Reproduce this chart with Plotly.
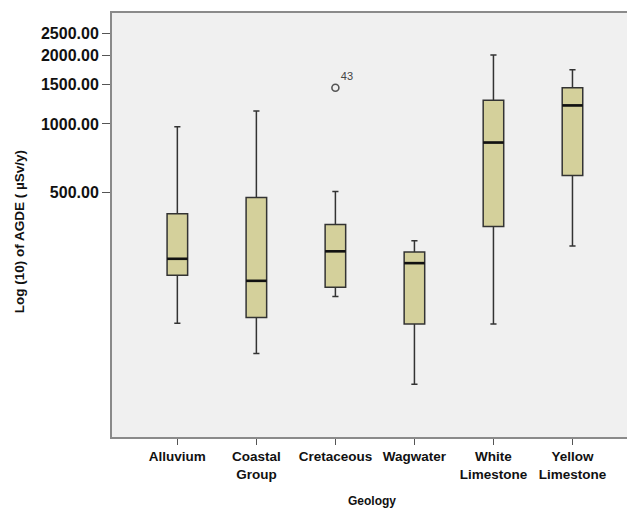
import plotly.graph_objects as go

categories = ["Alluvium", "Coastal<br>Group", "Cretaceous", "Wagwater", "White<br>Limestone", "Yellow<br>Limestone"]
lower_whisker = [132, 97, 173, 71, 131, 289]
q1 = [215, 140, 190, 131, 353, 592]
median = [254, 203, 274, 243, 828, 1208]
q3 = [401, 474, 360, 272, 1272, 1445]
upper_whisker = [973, 1141, 503, 305, 2014, 1734]
outlier_cat = [2]
outlier_val = [1445]
outlier_label = ["43"]
ytick_vals = [500, 1000, 1500, 2000, 2500]

BOX_W = 0.26
FONT = "Liberation Sans"
xs = list(range(len(categories)))

fig = go.Figure()
fig.add_trace(go.Box(
    x=xs, q1=q1, median=median, q3=q3,
    lowerfence=lower_whisker, upperfence=upper_whisker,
    width=BOX_W, whiskerwidth=0.3,
    fillcolor="#d4d09b", line=dict(color="#333333", width=1.5),
    boxpoints=False, showlegend=False, hoverinfo="skip",
))

mx, my = [], []
for i, m in zip(xs, median):
    mx += [i - BOX_W / 2, i + BOX_W / 2, None]
    my += [m, m, None]
fig.add_trace(go.Scatter(x=mx, y=my, mode="lines",
                         line=dict(color="#111111", width=2.6),
                         showlegend=False, hoverinfo="skip"))

fig.add_trace(go.Scatter(
    x=outlier_cat, y=outlier_val, mode="markers+text",
    marker=dict(symbol="circle-open", size=7, color="#555555", line=dict(width=1.6)),
    text=outlier_label, textposition="top right",
    textfont=dict(family=FONT, size=11, color="#444444"),
    showlegend=False, hoverinfo="skip",
))

fig.update_layout(
    width=627, height=509,
    margin=dict(l=112, r=0, t=13, b=72, autoexpand=False),
    paper_bgcolor="white", plot_bgcolor="#f0f0f0",
    font=dict(family=FONT, color="black"),
    xaxis=dict(
        range=[-0.827, 5.69], tickvals=xs, ticktext=categories,
        showgrid=False, zeroline=False,
        showline=True, mirror=True, linecolor="#8a8a8a", linewidth=2,
        ticks="outside", ticklen=6, tickcolor="#555555",
        tickfont=dict(family=FONT, size=13.5, weight="bold", color="#111111"),
    ),
    yaxis=dict(
        type="log", range=[1.618, 3.490],
        tickvals=ytick_vals, ticktext=[f"{v:.2f}" for v in ytick_vals],
        showgrid=False, zeroline=False,
        showline=True, linecolor="#8a8a8a", linewidth=2,
        ticks="outside", ticklen=8, tickcolor="#555555",
        tickfont=dict(family=FONT, size=16, weight="bold", color="#111111"),
    ),
    annotations=[
        dict(text="Log (10) of AGDE ( µSv/y)", textangle=-90,
             xref="paper", yref="paper", x=-0.179, y=0.485,
             xanchor="center", yanchor="middle", showarrow=False,
             font=dict(family=FONT, size=13.5, weight="bold", color="#111111")),
        dict(text="Geology", xref="paper", yref="paper", x=0.505, y=-0.151,
             xanchor="center", yanchor="middle", showarrow=False,
             font=dict(family=FONT, size=12, weight="bold", color="#111111")),
    ],
)

fig.write_html(
    "out.html",
    config={"displayModeBar": False},
    post_script="document.body.style.margin='0';document.body.style.overflow='hidden';",
)
